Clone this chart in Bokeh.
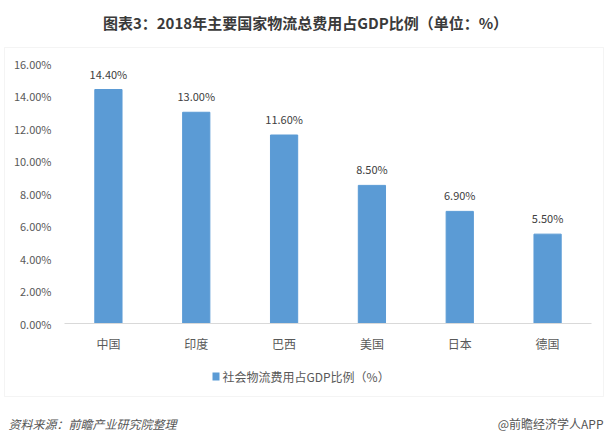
from bokeh.plotting import figure
from bokeh.models import (Label, BoxAnnotation, ColumnDataSource, Range1d, FixedTicker,
                          CustomJSTickFormatter, LinearAxis)
from bokeh.core.properties import value
from bokeh.embed import file_html
from bokeh.resources import INLINE

countries = ["中国", "印度", "巴西", "美国", "日本", "德国"]
ratios = [14.40, 13.00, 11.60, 8.50, 6.90, 5.50]
y_ticks = [0, 2, 4, 6, 8, 10, 12, 14, 16]
series_name = "社会物流费用占GDP比例（%）"
title_text = "图表3：2018年主要国家物流总费用占GDP比例（单位：%）"
source_text = "资料来源：前瞻产业研究院整理"
credit_text = "@前瞻经济学人APP"

FONT = "Noto Sans CJK SC"
BAR_COLOR = "#5b9bd5"
W, H = 610, 441

# plot-area placement on the canvas (pixels)
AX_L, AX_R, AX_T, AX_B = 64, 591, 63, 323
n = len(countries)
px_x = (AX_R - AX_L) / n
px_y = (AX_B - AX_T) / y_ticks[-1]
x0 = -0.5 - AX_L / px_x
x1 = n - 0.5 + (W - AX_R) / px_x
y1 = AX_B / px_y
y0 = -(H - AX_B) / px_y


def cx(X):
    return x0 + X / px_x


def cy(Y):
    return (AX_B - Y) / px_y


xs = list(range(n))
src = ColumnDataSource(dict(
    x=xs, y=ratios,
    lbl=[f"{v:.2f}%" for v in ratios],
))

p = figure(width=W, height=H, x_range=Range1d(x0, x1), y_range=Range1d(y0, y1),
           output_backend="svg", toolbar_location=None,
           x_axis_location=None, y_axis_location=None,
           min_border=0, min_border_left=0, min_border_right=0,
           min_border_top=0, min_border_bottom=0)
p.outline_line_color = None
p.background_fill_color = "white"
p.border_fill_color = "white"
p.xgrid.grid_line_color = None
p.ygrid.grid_line_color = None

# chart border box
p.add_layout(BoxAnnotation(left=cx(4), right=cx(603), top=cy(47), bottom=cy(396),
                           fill_color="white", fill_alpha=1, line_color="#d9d9d9",
                           line_width=1, level="underlay"))

p.vbar(x="x", top="y", width=0.31, source=src, color=BAR_COLOR)
p.text(x="x", y="y", text="lbl", source=src, text_align="center", text_baseline="bottom",
       y_offset=-8, text_font=value(FONT), text_font_size="11px", text_color="#404040")

yaxis = LinearAxis(fixed_location=-0.5, ticker=FixedTicker(ticks=y_ticks),
                   formatter=CustomJSTickFormatter(code="return tick.toFixed(2) + '%';"),
                   axis_line_color=None, major_tick_line_color=None, minor_tick_line_color=None,
                   major_label_text_font=FONT, major_label_text_font_size="11px",
                   major_label_text_color="#595959", major_label_standoff=7,
                   bounds=(0, y_ticks[-1]))
p.add_layout(yaxis, "left")

xaxis = LinearAxis(fixed_location=0, ticker=FixedTicker(ticks=xs),
                   major_label_overrides={i: c for i, c in enumerate(countries)},
                   axis_line_color="#d9d9d9", major_tick_line_color=None,
                   minor_tick_line_color=None,
                   major_label_text_font=FONT, major_label_text_font_size="12px",
                   major_label_text_color="#595959", major_label_standoff=5,
                   bounds=(-0.5, n - 0.5))
p.add_layout(xaxis, "below")

# legend swatch + label
p.add_layout(BoxAnnotation(left=cx(212), right=cx(219), top=cy(372), bottom=cy(380),
                           fill_color=BAR_COLOR, fill_alpha=1, line_color=None))
p.add_layout(Label(x=cx(222), y=cy(376), text=series_name,
                   text_align="left", text_baseline="middle", text_font=FONT,
                   text_font_size="12px", text_color="#595959"))

p.add_layout(Label(x=cx(305), y=cy(22), text=title_text,
                   text_align="center", text_baseline="middle", text_font=FONT,
                   text_font_size="15px", text_font_style="bold", text_color="#3a3a3a"))
p.add_layout(Label(x=cx(8), y=cy(423), text=source_text,
                   text_align="left", text_baseline="middle", text_font=FONT,
                   text_font_size="12px", text_font_style="italic", text_color="#555555"))
p.add_layout(Label(x=cx(603), y=cy(423), text=credit_text,
                   text_align="right", text_baseline="middle", text_font=FONT,
                   text_font_size="12px", text_color="#555555"))

open("out.html", "w").write(file_html(p, INLINE))
